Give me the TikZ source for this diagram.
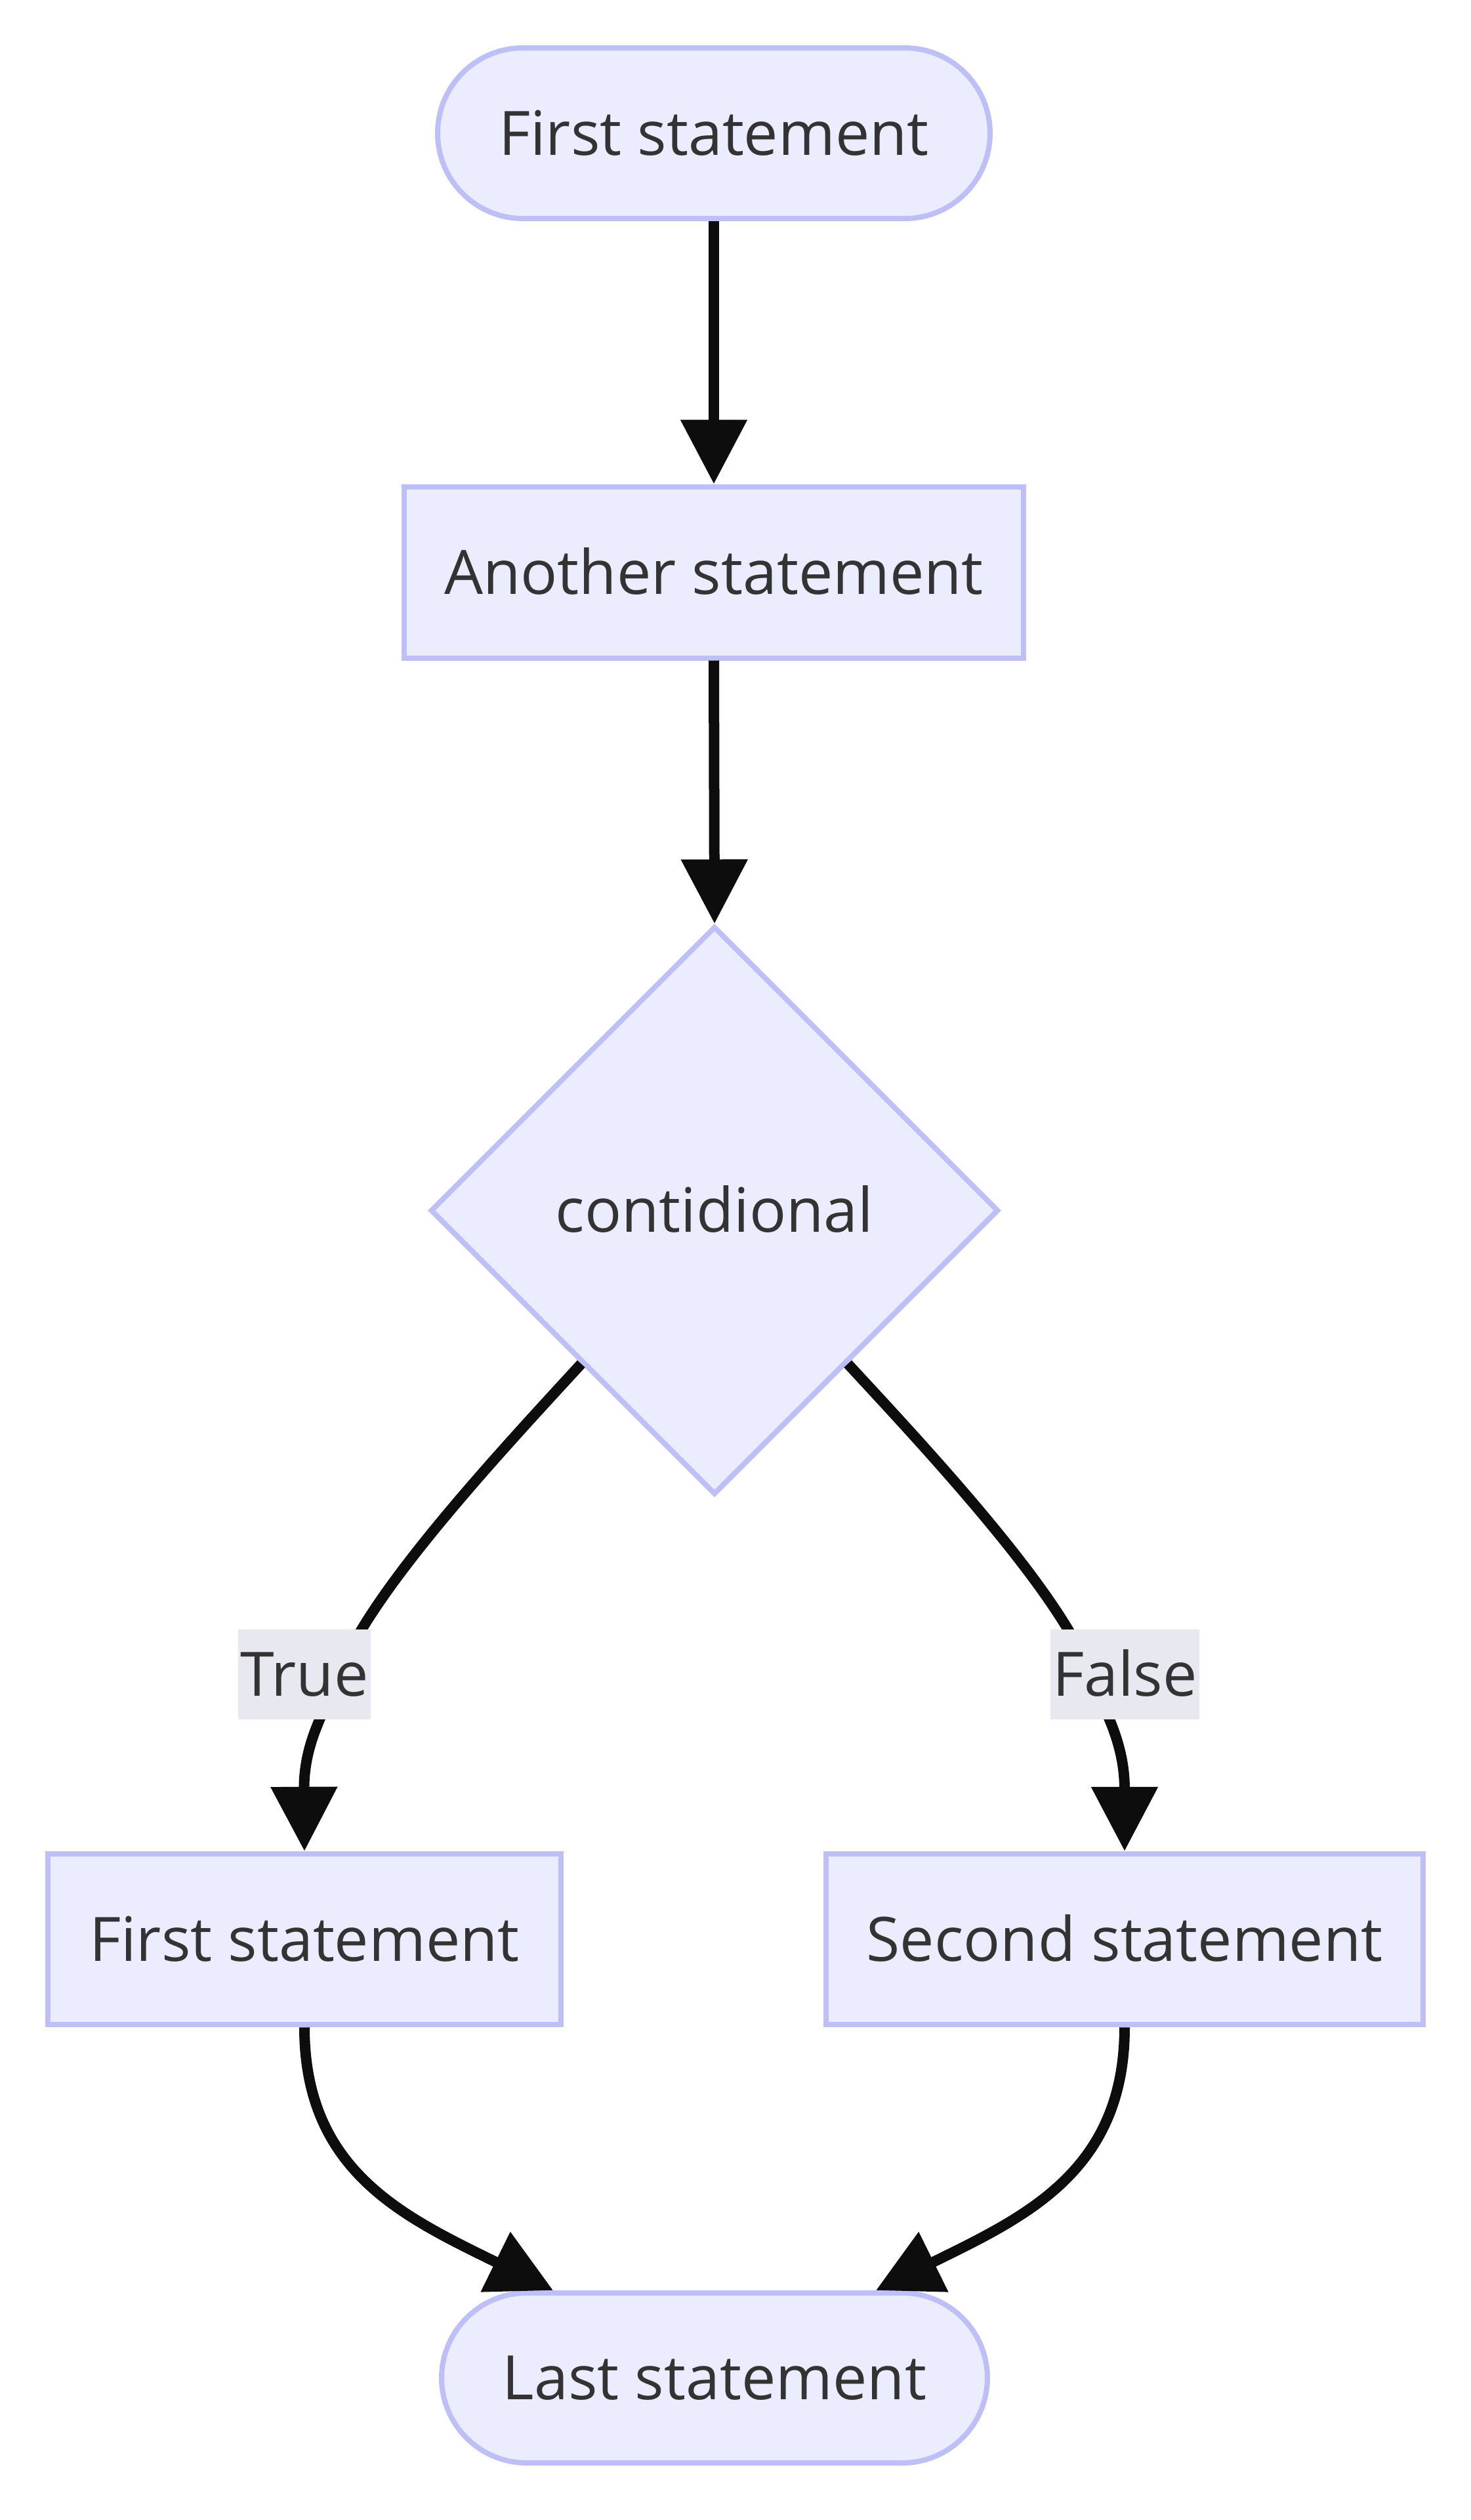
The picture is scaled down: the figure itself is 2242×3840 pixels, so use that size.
\documentclass[tikz,border=0pt]{standalone}
\usepackage{fontspec}
\setmainfont{Open Sans}
\usetikzlibrary{arrows.meta,shapes.geometric,calc}
\definecolor{nodefill}{RGB}{236,236,255}
\definecolor{nodeline}{RGB}{191,191,248}
\definecolor{labelbg}{RGB}{232,232,241}
\definecolor{txt}{RGB}{51,51,51}
\definecolor{edgec}{RGB}{13,13,13}
\begin{document}
\begin{tikzpicture}[x=0.3pt,y=-0.3pt,
  base/.style={draw=nodeline,fill=nodefill,line width=2.4pt,text=txt,
    font=\fontsize{28pt}{34pt}\selectfont,inner sep=0pt,
    text height=20pt,text depth=0pt},
  stadium/.style={base,rectangle,rounded corners=39pt},
  box/.style={base,rectangle},
  decision/.style={base,diamond,aspect=1},
  edge/.style={draw=edgec,line width=4.8pt,-{Triangle[length=29.4pt,width=29.4pt]}},
  elabel/.style={fill=labelbg,text=txt,font=\fontsize{28pt}{34pt}\selectfont,
    inner xsep=1pt,inner ysep=0pt,minimum height=41.1pt,
    text height=20pt,text depth=0pt}
]
\fill[white] (0,0) rectangle (2242,3840);
\useasboundingbox (0,0) rectangle (2242,3840);

\node[stadium,minimum width=252.6pt,minimum height=78pt] (start) at (1088,203) {First statement};
\node[box,minimum width=283.2pt,minimum height=78.3pt] (another) at (1088,872) {Another statement};
\node[decision,minimum width=259.8pt,minimum height=259.8pt] (cond) at (1089,1844.5) {contidional};
\node[box,minimum width=234.5pt,minimum height=78.15pt] (fs) at (464,2955) {First statement};
\node[box,minimum width=273pt,minimum height=78.15pt] (ss) at (1714,2955) {Second statement};
\node[stadium,minimum width=249.6pt,minimum height=77.7pt] (last) at (1089,3623.5) {Last statement};

\draw[edge] (start.south) -- (another.north);
\draw[edge] (another.south) -- (cond.north);
\draw[edge] (cond.-131) .. controls (760,2215) and (560,2430) .. (517,2552)
  .. controls (500,2600) and (463,2650) .. (fs.north);
\draw[edge] (cond.-49) .. controls (1419,2215) and (1619,2430) .. (1662,2552)
  .. controls (1679,2600) and (1714,2650) .. (ss.north);
\draw[edge] (fs.south) .. controls (464,3310) and (618,3379) .. ($(last.north)+(-246,0)$);
\draw[edge] (ss.south) .. controls (1714,3310) and (1560,3379) .. ($(last.north)+(246,0)$);

\node[elabel] (lt) at (464,2551.5) {True};
\node[elabel] (lf) at (1714.5,2551.5) {False};
\end{tikzpicture}
\end{document}
